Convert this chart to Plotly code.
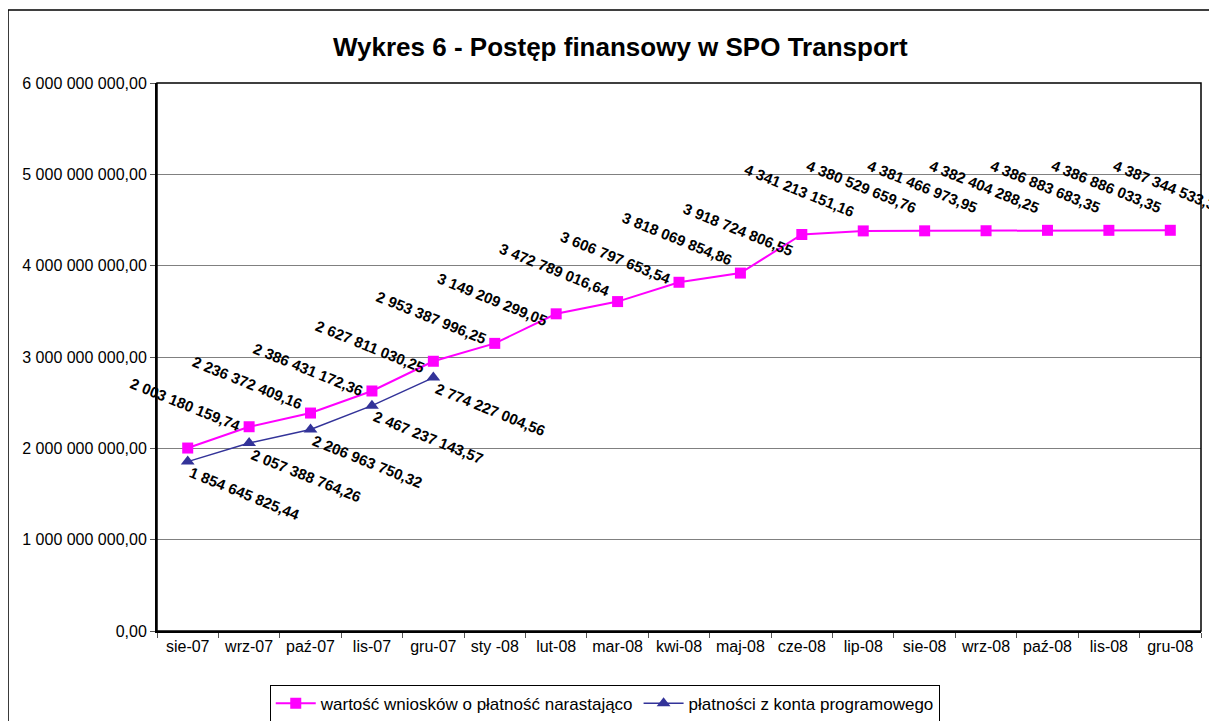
import plotly.graph_objects as go

categories = ["sie-07", "wrz-07", "paź-07", "lis-07", "gru-07", "sty -08", "lut-08", "mar-08",
              "kwi-08", "maj-08", "cze-08", "lip-08", "sie-08", "wrz-08", "paź-08", "lis-08", "gru-08"]

wnioski = [2003180159.74, 2236372409.16, 2386431172.36, 2627811030.25, 2953387996.25,
           3149209299.05, 3472789016.64, 3606797653.54, 3818069854.86, 3918724806.55,
           4341213151.16, 4380529659.76, 4381466973.95, 4382404288.25, 4386883683.35,
           4386886033.35, 4387344533.35]

platnosci = [1854645825.44, 2057388764.26, 2206963750.32, 2467237143.57, 2774227004.56]

y_tickvals = [0, 1e9, 2e9, 3e9, 4e9, 5e9, 6e9]
y_ticktext = ["0,00", "1 000 000 000,00", "2 000 000 000,00", "3 000 000 000,00",
              "4 000 000 000,00", "5 000 000 000,00", "6 000 000 000,00"]

name_a = "wartość wniosków o płatność narastająco"
name_b = "płatności z konta programowego"
title = "Wykres 6 - Postęp finansowy w SPO Transport"


def fmt(v):
    s = f"{v:,.2f}"
    ip, dp = s.split(".")
    return ip.replace(",", " ") + "," + dp


FONT = "Liberation Sans, Arial"

fig = go.Figure()
fig.add_trace(go.Scatter(
    x=categories, y=wnioski, name=name_a, mode="lines+markers",
    line=dict(color="#FF00FF", width=2),
    marker=dict(symbol="square", size=11, color="#FF00FF"),
))
fig.add_trace(go.Scatter(
    x=categories[:len(platnosci)], y=platnosci, name=name_b, mode="lines+markers",
    line=dict(color="#333399", width=1.5),
    marker=dict(symbol="triangle-up", size=12, color="#333399"),
))

lab_font = dict(family=FONT, size=15, color="black")
annotations = []
for c, v in zip(categories, wnioski):
    annotations.append(dict(x=c, y=v, xref="x", yref="y", text="<b>" + fmt(v) + "</b>",
                            showarrow=False, textangle=22, font=lab_font,
                            xshift=-2, yshift=44))
for c, v in zip(categories, platnosci):
    annotations.append(dict(x=c, y=v, xref="x", yref="y", text="<b>" + fmt(v) + "</b>",
                            showarrow=False, textangle=22, font=lab_font,
                            xshift=57, yshift=-32))

annotations.append(dict(text="<b>" + title + "</b>", xref="paper", yref="paper",
                        x=0.444, y=1.066, xanchor="center", yanchor="middle", showarrow=False,
                        font=dict(family=FONT, size=26, color="black")))

fig.update_layout(
    width=1209, height=713,
    margin=dict(l=149, r=16, t=75, b=90, autoexpand=False),
    paper_bgcolor="white", plot_bgcolor="white",
    showlegend=True,
    legend=dict(orientation="h", x=0.108, y=-0.098, xanchor="left", yanchor="top",
                bordercolor="black", borderwidth=1,
                font=dict(family=FONT, size=17, color="black"),
                itemwidth=40, tracegroupgap=0),
    annotations=annotations,
    shapes=[
        dict(type="rect", xref="paper", yref="paper", x0=-0.1427, x1=1.2, y0=-0.3, y1=1.1332,
             line=dict(color="black", width=1.5), layer="below"),
        dict(type="rect", xref="paper", yref="paper", x0=0, x1=1, y0=0, y1=1,
             line=dict(color="black", width=1.5), layer="above"),
    ],
    xaxis=dict(type="category", range=[-0.5, len(categories) - 0.5],
               showline=True, linecolor="black", linewidth=2,
               ticks="outside", tickson="boundaries", ticklen=5, tickcolor="#555",
               showgrid=False, tickangle=0,
               tickfont=dict(family=FONT, size=16, color="black")),
    yaxis=dict(range=[0, 6e9], tickvals=y_tickvals, ticktext=y_ticktext,
               showline=True, linecolor="black", linewidth=2,
               ticks="outside", ticklen=5, tickcolor="#555",
               showgrid=True, gridcolor="#808080", gridwidth=1, zeroline=False,
               tickfont=dict(family=FONT, size=16, color="black")),
)

fig.write_html("out.html")
